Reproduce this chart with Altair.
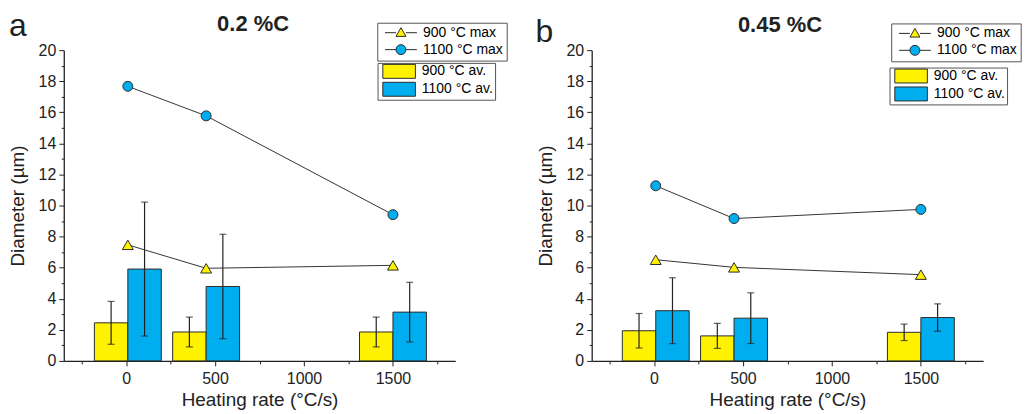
import altair as alt
import pandas as pd

# ---------------- data ----------------
rates = [10, 450, 1500]
series_av = ["900 °C av.", "1100 °C av."]
series_max = ["900 °C max", "1100 °C max"]
panel_titles = ["0.2 %C", "0.45 %C"]
panel_letters = ["a", "b"]

# panel a : 0.2 %C
a_av900 = [2.45, 1.86, 1.86]
a_sd900 = [1.38, 0.96, 0.96]
a_av1100 = [5.91, 4.79, 3.14]
a_sd1100 = [4.31, 3.36, 1.92]
a_max900 = [7.47, 5.96, 6.15]
a_max1100 = [17.67, 15.77, 9.41]

# panel b : 0.45 %C
b_av900 = [1.94, 1.61, 1.84]
b_sd900 = [1.11, 0.80, 0.53]
b_av1100 = [3.23, 2.75, 2.79]
b_sd1100 = [2.12, 1.63, 0.88]
b_max900 = [6.51, 6.02, 5.55]
b_max1100 = [11.27, 9.16, 9.75]

x_major = [0, 500, 1000, 1500]
x_minor = [-250, 250, 750, 1250, 1750]
y_ticks = list(range(0, 21))

# ---------------- styles ----------------
FONT = "Liberation Sans"
YELLOW = "#FFF200"
BLUE = "#00AEEF"
EDGE = "#2b2b2b"
W, H = 393, 312
BAR_W = 188

TRI_PATH = ("M-0.44,0H1.76 M3.76,0H5.96 "
            "M2.76,-1.0L3.76,0.74H1.76Z")
CIRC_PATH = ("M-0.44,0H1.76 M3.76,0H5.96 "
             "M3.76,0A1,1 0 1,1 1.76,0A1,1 0 1,1 3.76,0Z")
RECT_PATH = "M-0.64,-1.4H5.9V1.4H-0.64Z"


def make_panel(idx, av900, sd900, av1100, sd1100, mx900, mx1100, leg1_xy, leg2_xy,
               title_xy, letter_xy):
    bar_rows = []
    for r, m, s in zip(rates, av900, sd900):
        bar_rows.append({"series": series_av[0], "rate": r, "mean": m, "sd": s, "side": -1})
    for r, m, s in zip(rates, av1100, sd1100):
        bar_rows.append({"series": series_av[1], "rate": r, "mean": m, "sd": s, "side": 1})
    bars_df = pd.DataFrame(bar_rows)

    max_rows = []
    for r, v in zip(rates, mx900):
        max_rows.append({"series": series_max[0], "rate": r, "val": v})
    for r, v in zip(rates, mx1100):
        max_rows.append({"series": series_max[1], "rate": r, "val": v})
    max_df = pd.DataFrame(max_rows)

    xscale = alt.Scale(domain=[-350, 1850], nice=False, zero=False, padding=0)
    yscale = alt.Scale(domain=[0, 20], nice=False, padding=0)

    xaxis = alt.Axis(
        values=x_major + x_minor, format="d", tickCount=len(x_major + x_minor),
        labelExpr="datum.value % 500 == 0 ? datum.label : ''",
        tickSize={"condition": {"test": "datum.value % 500 != 0", "value": 3}, "value": 5},
        labelFontSize={"condition": {"test": "datum.value % 500 != 0", "value": 1}, "value": 16},
        labelOverlap=False, grid=False, labelPadding=5, titlePadding=4,
        title="Heating rate (°C/s)",
    )
    yaxis = alt.Axis(
        values=y_ticks, tickCount=len(y_ticks),
        labelExpr="datum.value % 2 == 0 ? datum.label : ''",
        tickSize={"condition": {"test": "datum.value % 2 != 0", "value": 2.5}, "value": 5},
        labelFontSize={"condition": {"test": "datum.value % 2 != 0", "value": 1}, "value": 16},
        labelOverlap=False, grid=False, labelPadding=3, titlePadding=10.5,
        title="Diameter (µm)",
    )

    base_bars = alt.Chart(bars_df).transform_calculate(
        x0=f"datum.rate + (datum.side < 0 ? -{BAR_W} : 0)",
        x1=f"datum.rate + (datum.side > 0 ? {BAR_W} : 0)",
        xc=f"datum.rate + datum.side * {BAR_W / 2}",
        lo="datum.mean - datum.sd",
        hi="datum.mean + datum.sd",
    )

    leg_common = dict(
        title=None, orient="none", symbolStrokeWidth=1,
        symbolOpacity=1, symbolSize=100, labelOffset=29,
        labelFont=FONT, labelFontSize=14, labelColor="black",
        strokeColor="#555", fillColor="white",
    )
    leg_bar = alt.Legend(legendX=leg2_xy[0], legendY=leg2_xy[1], symbolStrokeColor=EDGE,
                         symbolType=RECT_PATH, padding=1.5, rowPadding=0, **leg_common)
    bars = base_bars.mark_bar(stroke=EDGE, strokeWidth=1).encode(
        x=alt.X("x0:Q", scale=xscale, axis=xaxis),
        x2="x1:Q",
        y=alt.Y("mean:Q", scale=yscale, axis=yaxis),
        y2=alt.datum(0),
        fill=alt.Fill("series:N", scale=alt.Scale(domain=series_av, range=[YELLOW, BLUE]),
                      legend=leg_bar),
    )
    err = base_bars.mark_rule(color="#222", strokeWidth=1.2).encode(
        x="xc:Q", y="lo:Q", y2="hi:Q")
    cap_hi = base_bars.mark_tick(orient="horizontal", size=7, thickness=1.2, color="#222").encode(
        x="xc:Q", y="hi:Q")
    cap_lo = base_bars.mark_tick(orient="horizontal", size=7, thickness=1.2, color="#222").encode(
        x="xc:Q", y="lo:Q")

    lines = alt.Chart(max_df).mark_line(color="#333", strokeWidth=1).encode(
        x="rate:Q", y="val:Q", detail="series:N")
    pts900 = alt.Chart(max_df).transform_filter(
        alt.datum.series == series_max[0]
    ).mark_point(shape="triangle-up", filled=True, fill=YELLOW, stroke=EDGE,
                 strokeWidth=1, size=120, opacity=1).encode(x="rate:Q", y="val:Q")
    pts1100 = alt.Chart(max_df).transform_filter(
        alt.datum.series == series_max[1]
    ).mark_point(shape="circle", filled=True, fill=BLUE, stroke=EDGE,
                 strokeWidth=1, size=100, opacity=1).encode(x="rate:Q", y="val:Q")

    leg_max = alt.Legend(legendX=leg1_xy[0], legendY=leg1_xy[1], padding=3, rowPadding=2,
                         **leg_common)
    # legend-only layer: zero-size points, so nothing shows in the plot area
    leg_pts = alt.Chart(max_df).mark_point(filled=True, size=0, strokeWidth=1).encode(
        x="rate:Q", y="val:Q",
        fill=alt.Fill("series:N", scale=alt.Scale(domain=series_max, range=[YELLOW, BLUE]),
                      legend=leg_max),
        shape=alt.Shape("series:N", scale=alt.Scale(domain=series_max, range=[TRI_PATH, CIRC_PATH]),
                        legend=leg_max),
        stroke=alt.Stroke("series:N", scale=alt.Scale(domain=series_max, range=[EDGE, EDGE]),
                          legend=leg_max),
    )

    title_txt = alt.Chart(alt.Data(values=[{"t": panel_titles[idx]}])).mark_text(
        font=FONT, fontSize=22, fontWeight="bold", align="center", baseline="alphabetic",
        color="#222").encode(x=alt.value(title_xy[0]), y=alt.value(title_xy[1]), text="t:N")
    letter = alt.Chart(alt.Data(values=[{"t": panel_letters[idx]}])).mark_text(
        font=FONT, fontSize=32, align="left", baseline="alphabetic",
        color="#222").encode(x=alt.value(letter_xy[0]), y=alt.value(letter_xy[1]), text="t:N")

    layer = alt.layer(bars, err, cap_hi, cap_lo, lines, pts900, pts1100, leg_pts,
                      title_txt, letter).resolve_scale(
        fill="independent", shape="independent", stroke="independent")
    return layer.properties(width=W, height=H)


left = make_panel(0, a_av900, a_sd900, a_av1100, a_sd1100, a_max900, a_max1100,
                  (314.7, -27.5), (315, 12.8), (190, -19.5), (-55, -14.5))
right = make_panel(1, b_av900, b_sd900, b_av1100, b_sd1100, b_max900, b_max1100,
                   (300.7, -26.8), (299, 17.5), (189, -18.5), (-56.5, -8.5))

chart = alt.hconcat(left, right, spacing=137, bounds="flush").resolve_scale(
    fill="independent", shape="independent", stroke="independent"
).properties(
    padding={"left": 0, "top": 0.5, "right": 0, "bottom": 0}
).configure_view(stroke=None).configure_axis(
    labelFont=FONT, labelFontSize=16, labelColor="#222",
    titleFont=FONT, titleFontSize=19, titleFontWeight="normal", titleColor="#222",
    domainColor="#222", domainWidth=1.3, tickColor="#222", tickWidth=1,
)

chart.save("out.html", embed_options={"renderer": "svg", "actions": False})
